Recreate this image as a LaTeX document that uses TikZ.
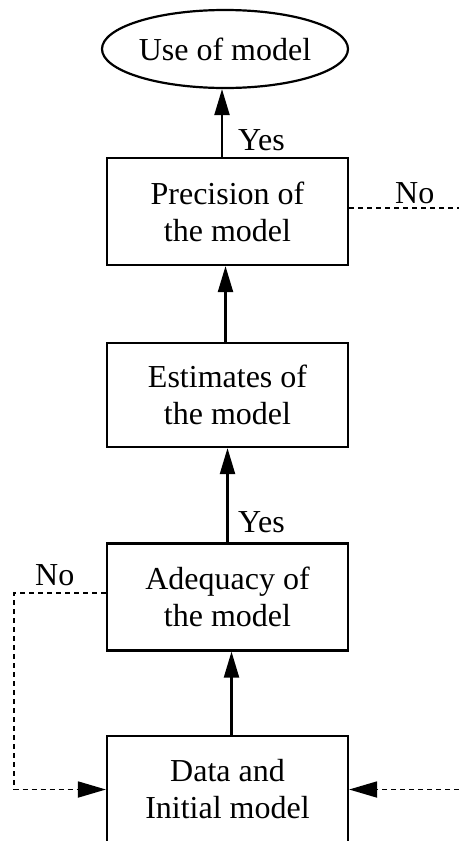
\documentclass[tikz,border=0pt]{standalone}
\usepackage{fontspec}
\setmainfont{Liberation Serif}
\usetikzlibrary{shapes.geometric,arrows.meta}
\begin{document}
\begin{tikzpicture}[x=1pt,y=-1pt,
  txt/.style={font=\fontsize{32}{37}\selectfont},
  box/.style={draw,line width=2.2pt,rectangle,minimum width=241pt,inner sep=0pt,align=center,txt},
  flow/.style={line width=2.2pt,-{Triangle[length=26pt,width=15pt]}},
  back/.style={line width=1.8pt,dash pattern=on 5pt off 4pt,-{Triangle[length=28pt,width=16pt]}},
  lbl/.style={anchor=base west,inner sep=0pt,txt}]
\useasboundingbox (0,0) rectangle (459,841);
\node[draw,ellipse,line width=2.2pt,minimum width=246pt,minimum height=78pt,inner sep=0pt,txt] (use) at (225,49) {Use of model};
\node[box,minimum height=107pt] (prec) at (227.5,211.5) {Precision of\\the model};
\node[box,minimum height=104pt] (est) at (227.5,395) {Estimates of\\the model};
\node[box,minimum height=107pt] (adeq) at (227.5,597) {Adequacy of\\the model};
\node[box,minimum height=107pt] (data) at (227.5,789.5) {Data and\\Initial model};
\draw[flow] ([xshift=-5.5pt]prec.north) -- ([xshift=-3pt]use.south);
\draw[flow] ([xshift=-2pt]est.north) -- ([xshift=-2pt]prec.south);
\draw[flow] ([xshift=0pt]adeq.north) -- ([xshift=0pt]est.south);
\draw[flow] ([xshift=4pt]data.north) -- ([xshift=4pt]adeq.south);
\node[lbl] (yes1) at (238,150) {Yes};
\node[lbl] (yes2) at (238,532) {Yes};
\coordinate (rt) at (459,208);
\draw[line width=1.8pt,dash pattern=on 5pt off 4pt] ([yshift=3.5pt]prec.east) -- (rt);
\node[lbl] (no1) at (395,203) {No};
\coordinate (l1) at (14,593);
\coordinate (l2) at (14,789.5);
\draw[back] ([yshift=4pt]adeq.west) -- (l1) -- (l2) -- (data.west);
\node[lbl] (no2) at (35,585) {No};
\coordinate (rb) at (459,789.5);
\draw[back] (rb) -- (data.east);
\end{tikzpicture}
\end{document}
